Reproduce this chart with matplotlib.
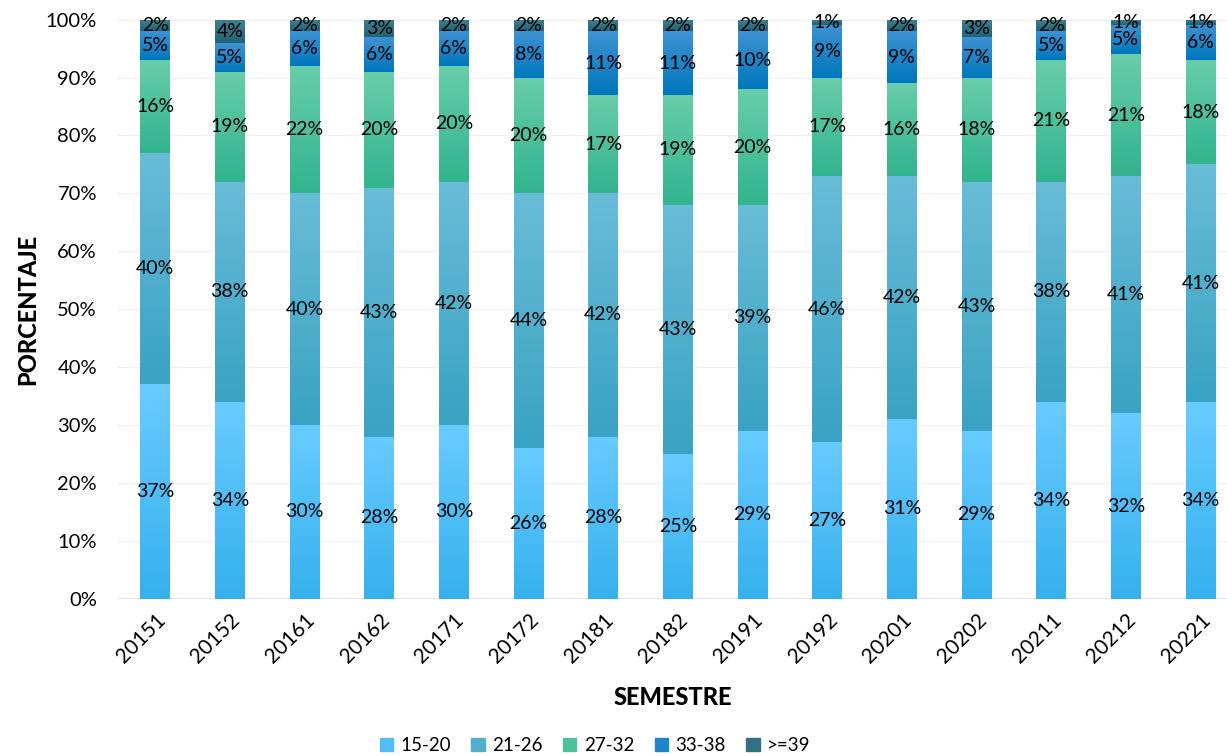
import numpy as np
import matplotlib
matplotlib.use("Agg")
import matplotlib.pyplot as plt
from matplotlib.colors import LinearSegmentedColormap

plt.rcParams['font.family'] = ['Lato', 'DejaVu Sans']

semestres = ['20151', '20152', '20161', '20162', '20171', '20172', '20181', '20182',
             '20191', '20192', '20201', '20202', '20211', '20212', '20221']
edad_15_20 = [37, 34, 30, 28, 30, 26, 28, 25, 29, 27, 31, 29, 34, 32, 34]
edad_21_26 = [40, 38, 40, 43, 42, 44, 42, 43, 39, 46, 42, 43, 38, 41, 41]
edad_27_32 = [16, 19, 22, 20, 20, 20, 17, 19, 20, 17, 16, 18, 21, 21, 18]
edad_33_38 = [5, 5, 6, 6, 6, 8, 11, 11, 10, 9, 9, 7, 5, 5, 6]
edad_39 = [2, 4, 2, 3, 2, 2, 2, 2, 2, 1, 2, 3, 2, 1, 1]

series = [edad_15_20, edad_21_26, edad_27_32, edad_33_38, edad_39]
nombres = ['15-20', '21-26', '27-32', '33-38', '>=39']
# (color arriba, color abajo) para el degradado
colores = [('#68CBFF', '#36B1EE'),
           ('#68BCD8', '#3AA3C3'),
           ('#68CDAA', '#32B48F'),
           ('#3E92D2', '#0077BD'),
           ('#427F90', '#1D6576')]

fig = plt.figure(figsize=(12.27, 7.56), dpi=100)
ax = fig.add_axes([0.096, 0.208, 0.905, 0.766])

x = np.arange(len(semestres))
ancho = 0.4
base = np.zeros(len(semestres))
handles = []
for vals, nombre, (c_top, c_bot) in zip(series, nombres, colores):
    vals = np.array(vals, dtype=float)
    cmap = LinearSegmentedColormap.from_list(nombre, [c_bot, c_top])
    bars = ax.bar(x, vals, ancho, bottom=base, color=c_bot, edgecolor='none', zorder=2)
    for b in bars:
        x0, y0 = b.get_x(), b.get_y()
        w, h = b.get_width(), b.get_height()
        grad = np.linspace(0, 1, 64).reshape(-1, 1)
        im = ax.imshow(grad, cmap=cmap, origin='lower', aspect='auto',
                       extent=(x0, x0 + w, y0, y0 + h), zorder=3)
        im.set_clip_path(b)
    for xi, v, b0 in zip(x, vals, base):
        ax.text(xi, b0 + v / 2, f'{int(v)}%', ha='center', va='center',
                fontsize=14, color='black', zorder=5)
    handles.append(plt.Rectangle((0, 0), 1, 1, color=cmap(0.5)))
    base += vals

ax.set_xlim(-0.5, 14.37)
ax.set_ylim(0, 100)
ax.set_yticks(np.arange(0, 101, 10))
ax.set_yticklabels([f'{t}%' for t in range(0, 101, 10)], fontsize=14.5)
ax.set_xticks(x)
ax.set_xticklabels(semestres, rotation=45, ha='right', rotation_mode='anchor', fontsize=15)
ax.tick_params(axis='y', length=0, pad=15)
ax.tick_params(axis='x', length=0, pad=8)
ax.grid(axis='y', color='#f0f0f0', lw=1, zorder=0)
ax.set_axisbelow(True)
for s in ax.spines.values():
    s.set_visible(False)
ax.axhline(0, color='#e6e6e6', lw=1.5, zorder=1)

ax.set_ylabel('PORCENTAJE', fontsize=17, fontweight='black', labelpad=5)
ax.set_xlabel('SEMESTRE', fontsize=17, fontweight='black', labelpad=14)

fig.legend(handles, nombres, loc='lower center', bbox_to_anchor=(0.485, -0.02), ncol=5,
           frameon=False, fontsize=13.5, handlelength=0.7, handleheight=0.7,
           handletextpad=0.4, columnspacing=1.1)

fig.savefig('out.png', dpi=100)
